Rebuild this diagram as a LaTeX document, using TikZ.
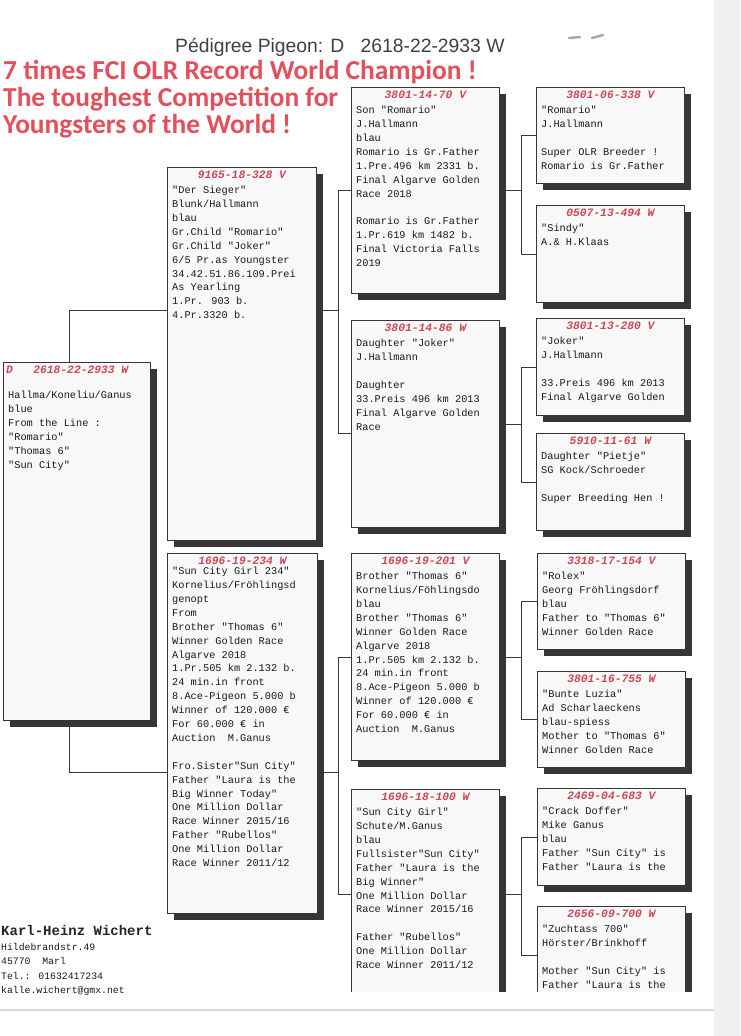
\documentclass[tikz,border=0pt]{standalone}
\usepackage{fontspec}
\setmainfont{Liberation Sans}
\newfontfamily\courier{Liberation Mono}
\newfontfamily\carlito{Carlito}
\usetikzlibrary{shadows}
\definecolor{ringred}{HTML}{C94A55}
\definecolor{titlered}{HTML}{E2505C}
\definecolor{inkgray}{HTML}{363636}
\definecolor{boxwhite}{HTML}{F8F8F8}

\begin{document}
\begin{tikzpicture}[x=1pt,y=-1pt,
  box/.style={draw=inkgray,line width=0.8pt,fill=boxwhite,anchor=north west,inner sep=0pt,minimum width=148pt,
    drop shadow={shadow xshift=7pt,shadow yshift=-7pt,fill=inkgray,opacity=1}},
  ring/.style={anchor=base,inner sep=0pt,text=ringred,font=\courier\bfseries\itshape\fontsize{11.3}{13}\selectfont},
  notes/.style={anchor=north west,inner sep=0pt,align=left,text=black!90,font=\courier\fontsize{10.3}{13.9}\selectfont,execute at begin node=\strut},
  link/.style={draw=inkgray,line width=0.7pt}]
\useasboundingbox (0,0) rectangle (740,1036);
\fill[white] (0,0) rectangle (740,1036);
\fill[gray!12] (714,0) rectangle (740,1036);
\draw[gray!70,line width=2.5pt,line cap=round] (569,38) -- (580,37) (592,38) -- (603,35);

\node[anchor=base west,inner sep=0pt,text=black!75,font=\fontsize{19.3}{22}\selectfont] (head) at (175,52) {Pédigree Pigeon: D\hspace{0.85em}2618-22-2933 W};
\node[anchor=base west,inner sep=0pt,text=titlered,font=\carlito\bfseries\fontsize{27.4}{28}\selectfont] (title) at (3,79) {7 times FCI OLR Record World Champion !};
\node[anchor=base west,inner sep=0pt,text=titlered,font=\carlito\bfseries\fontsize{27.4}{28}\selectfont] (slogan) at (3,106) {The toughest Competition for};
\node[anchor=base west,inner sep=0pt,text=titlered,font=\carlito\bfseries\fontsize{27.4}{28}\selectfont] (slogan2) at (3,133) {Youngsters of the World !};

\node[box,minimum width=147pt,minimum height=358pt] (pigeon) at (3,362) {};
\node[box,minimum width=149pt,minimum height=373pt] (sire) at (167,167) {};
\node[box,minimum width=150pt,minimum height=360pt] (dam) at (167,553) {};
\node[box,minimum height=206pt] (ss) at (351,87) {};
\node[box,minimum height=207pt] (sd) at (351,320) {};
\node[box,minimum height=207pt] (ds) at (351,553) {};
\node[box,minimum height=210pt] (dd) at (351,789) {};
\node[box,minimum height=96pt] (sss) at (536,87) {};
\node[box,minimum height=97pt] (ssd) at (536,205) {};
\node[box,minimum height=97pt] (sds) at (536,318) {};
\node[box,minimum height=97pt] (sdd) at (536,433) {};
\node[box,minimum height=96pt] (dss) at (537,553) {};
\node[box,minimum height=96pt] (dsd) at (537,671) {};
\node[box,minimum height=97pt] (dds) at (537,788) {};
\node[box,minimum height=97pt] (ddd) at (537,906) {};

\draw[link] ([xshift=66pt]pigeon.north west) |- ([yshift=-143pt]sire.north west);
\draw[link] ([xshift=66pt]pigeon.south west) |- ([yshift=-219pt]dam.north west);
\draw[link] ([yshift=-143pt]sire.north east) -- ++(22,0);
\draw[link] ([yshift=-219pt]dam.north east) -- ++(21,0);
\draw[link] (ss.west) -| ([xshift=-13pt,yshift=-113pt]sd.north west) -- ([yshift=-113pt]sd.north west);
\draw[link] (ds.west) -| ([xshift=-13pt]dd.west) -- (dd.west);
\draw[link] (ss.east) -- ++(22,0);
\draw[link] (sd.east) -- ++(22,0);
\draw[link] (ds.east) -- ++(22,0);
\draw[link] (dd.east) -- ++(22,0);
\draw[link] (sss.west) -| ([xshift=-15pt]ssd.west) -- (ssd.west);
\draw[link] (sds.west) -| ([xshift=-15pt]sdd.west) -- (sdd.west);
\draw[link] (dss.west) -| ([xshift=-16pt]dsd.west) -- (dsd.west);
\draw[link] (dds.west) -| ([xshift=-16pt]ddd.west) -- (ddd.west);

\node[ring,anchor=base west] at ([xshift=3pt,yshift=-11pt]pigeon.north west) {D\ \ \ 2618-22-2933 W};
\node[notes] at ([xshift=5pt,yshift=-29pt]pigeon.north west) {Hallma/Koneliu/Ganus\\blue\\From the Line :\\"Romario"\\"Thomas 6"\\"Sun City"};

\node[ring] at ([yshift=-11pt]sire.north) {9165-18-328 V};
\node[notes] at ([xshift=5pt,yshift=-19pt]sire.north west) {"Der Sieger"\\Blunk/Hallmann\\blau\\Gr.Child "Romario"\\Gr.Child "Joker"\\6/5 Pr.as Youngster\\34.42.51.86.109.Prei\\As Yearling\\1.Pr. 903 b.\\4.Pr.3320 b.};

\node[ring] at ([yshift=-11pt]dam.north) {1696-19-234 W};
\node[notes] at ([xshift=5pt,yshift=-14pt]dam.north west) {"Sun City Girl 234"\\Kornelius/Fröhlingsd\\genopt\\From\\Brother "Thomas 6"\\Winner Golden Race\\Algarve 2018\\1.Pr.505 km 2.132 b.\\24 min.in front\\8.Ace-Pigeon 5.000 b\\Winner of 120.000 €\\For 60.000 € in\\Auction\ \ M.Ganus\\[13.9pt]Fro.Sister"Sun City"\\Father "Laura is the\\Big Winner Today"\\One Million Dollar\\Race Winner 2015/16\\Father "Rubellos"\\One Million Dollar\\Race Winner 2011/12};

\node[ring] at ([yshift=-11pt]ss.north) {3801-14-70 V};
\node[notes] at ([xshift=5pt,yshift=-19pt]ss.north west) {Son "Romario"\\J.Hallmann\\blau\\Romario is Gr.Father\\1.Pre.496 km 2331 b.\\Final Algarve Golden\\Race 2018\\[13.9pt]Romario is Gr.Father\\1.Pr.619 km 1482 b.\\Final Victoria Falls\\2019};

\node[ring] at ([yshift=-11pt]sd.north) {3801-14-86 W};
\node[notes] at ([xshift=5pt,yshift=-19pt]sd.north west) {Daughter "Joker"\\J.Hallmann\\[13.9pt]Daughter\\33.Preis 496 km 2013\\Final Algarve Golden\\Race};

\node[ring] at ([yshift=-11pt]ds.north) {1696-19-201 V};
\node[notes] at ([xshift=5pt,yshift=-19pt]ds.north west) {Brother "Thomas 6"\\Kornelius/Föhlingsdo\\blau\\Brother "Thomas 6"\\Winner Golden Race\\Algarve 2018\\1.Pr.505 km 2.132 b.\\24 min.in front\\8.Ace-Pigeon 5.000 b\\Winner of 120.000 €\\For 60.000 € in\\Auction\ \ M.Ganus};

\node[ring] at ([yshift=-11pt]dd.north) {1696-18-100 W};
\node[notes] at ([xshift=5pt,yshift=-19pt]dd.north west) {"Sun City Girl"\\Schute/M.Ganus\\blau\\Fullsister"Sun City"\\Father "Laura is the\\Big Winner"\\One Million Dollar\\Race Winner 2015/16\\[13.9pt]Father "Rubellos"\\One Million Dollar\\Race Winner 2011/12};

\node[ring] at ([yshift=-11pt]sss.north) {3801-06-338 V};
\node[notes] at ([xshift=5pt,yshift=-19pt]sss.north west) {"Romario"\\J.Hallmann\\[13.9pt]Super OLR Breeder !\\Romario is Gr.Father};

\node[ring] at ([yshift=-11pt]ssd.north) {0507-13-494 W};
\node[notes] at ([xshift=5pt,yshift=-19pt]ssd.north west) {"Sindy"\\A.\& H.Klaas};

\node[ring] at ([yshift=-11pt]sds.north) {3801-13-280 V};
\node[notes] at ([xshift=5pt,yshift=-19pt]sds.north west) {"Joker"\\J.Hallmann\\[13.9pt]33.Preis 496 km 2013\\Final Algarve Golden};

\node[ring] at ([yshift=-11pt]sdd.north) {5910-11-61 W};
\node[notes] at ([xshift=5pt,yshift=-19pt]sdd.north west) {Daughter "Pietje"\\SG Kock/Schroeder\\[13.9pt]Super Breeding Hen !};

\node[ring] at ([yshift=-11pt]dss.north) {3318-17-154 V};
\node[notes] at ([xshift=5pt,yshift=-19pt]dss.north west) {"Rolex"\\Georg Fröhlingsdorf\\blau\\Father to "Thomas 6"\\Winner Golden Race};

\node[ring] at ([yshift=-11pt]dsd.north) {3801-16-755 W};
\node[notes] at ([xshift=5pt,yshift=-19pt]dsd.north west) {"Bunte Luzia"\\Ad Scharlaeckens\\blau-spiess\\Mother to "Thomas 6"\\Winner Golden Race};

\node[ring] at ([yshift=-11pt]dds.north) {2469-04-683 V};
\node[notes] at ([xshift=5pt,yshift=-19pt]dds.north west) {"Crack Doffer"\\Mike Ganus\\blau\\Father "Sun City" is\\Father "Laura is the};

\node[ring] at ([yshift=-11pt]ddd.north) {2656-09-700 W};
\node[notes] at ([xshift=5pt,yshift=-19pt]ddd.north west) {"Zuchtass 700"\\Hörster/Brinkhoff\\[13.9pt]Mother "Sun City" is\\Father "Laura is the};

\node[anchor=base west,inner sep=0pt,text=black!85,font=\courier\bfseries\fontsize{14}{16}\selectfont] (breeder) at (1,935) {Karl-Heinz Wichert};
\node[notes,font=\courier\fontsize{9.8}{14.5}\selectfont] (address) at (1,943) {Hildebrandstr.49\\45770\ \ Marl\\Tel.: 01632417234\\kalle.wichert@gmx.net};

\fill[white] (330,992) rectangle (714,1036);
\draw[gray!30,line width=1.5pt] (0,1010) -- (714,1010);
\end{tikzpicture}
\end{document}
